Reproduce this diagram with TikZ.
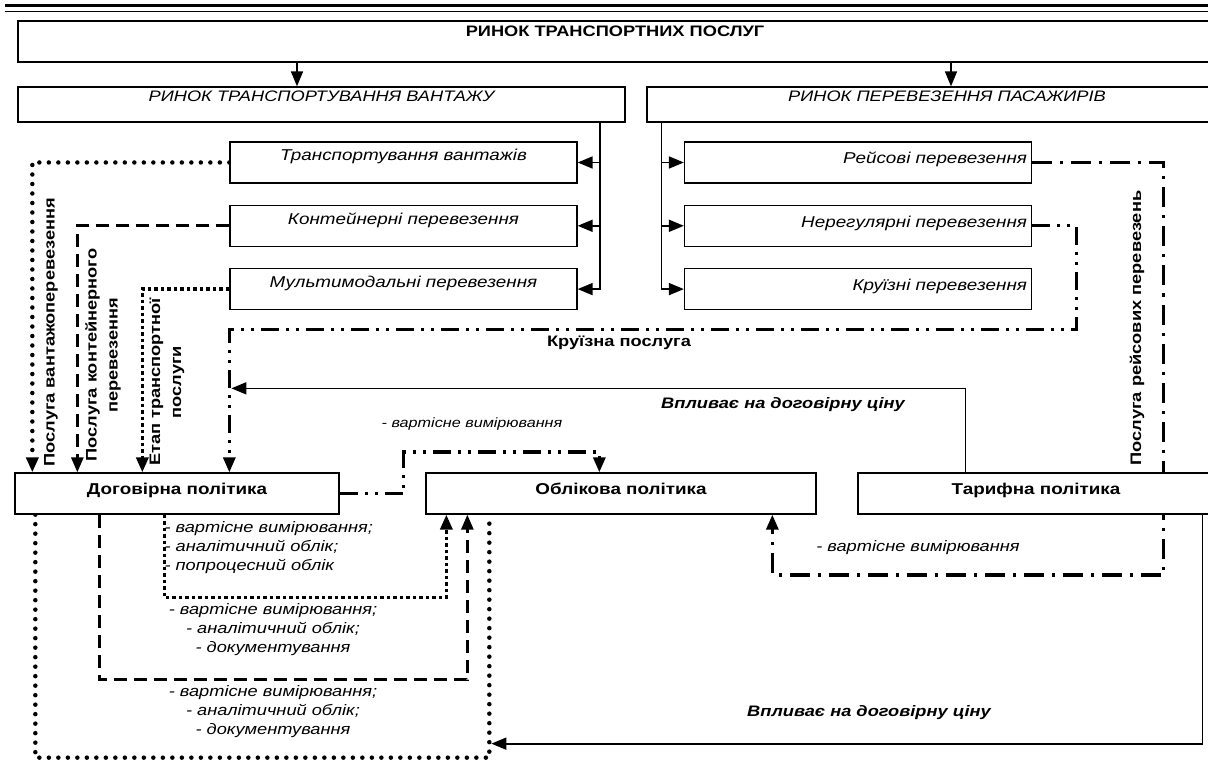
\documentclass[tikz,border=0pt]{standalone}
\usepackage{fontspec}
\setmainfont{Liberation Sans}[FakeStretch=1.2]
\usetikzlibrary{arrows.meta,positioning,backgrounds}

\begin{document}
\begin{tikzpicture}[x=1pt,y=-1pt,>={Triangle[length=15pt,width=12pt]},
  box/.style={draw,line width=1.3pt,fill=white,inner sep=2pt,text height=11pt},
  titel/.style={box,font=\fontsize{15.2}{17}\selectfont\bfseries,text depth=20pt,minimum width=1194pt,minimum height=41pt},
  markt/.style={box,font=\fontsize{15.2}{17}\selectfont\itshape,text depth=17pt,minimum width=600pt,minimum height=35pt},
  leistung/.style={box,font=\fontsize{15.7}{17}\selectfont\itshape,text depth=14pt,minimum width=347pt,minimum height=41pt},
  leistung rechts/.style={leistung,text depth=8pt,text width=338pt,align=right},
  politik/.style={box,font=\fontsize{15.7}{17}\selectfont\bfseries,text depth=9pt,minimum height=41pt},
  beschr/.style={font=\fontsize{15.2}{21}\selectfont\bfseries},
  fettkursiv/.style={font=\fontsize{15.2}{17}\selectfont\bfseries\itshape},
  liste/.style={font=\fontsize{15.2}{19}\selectfont\itshape},
  klein/.style={font=\fontsize{13.5}{15}\selectfont\itshape},
  linie/.style={line width=1.7pt},
  punkte/.style={line width=4.5pt,line cap=round,dash pattern=on 0pt off 9.5pt},
  quadrate/.style={line width=3.5pt,dash pattern=on 3.5pt off 3pt},
  strich/.style={line width=2.8pt,dash pattern=on 13pt off 7pt},
  strichpunkt/.style={line width=3.2pt,dash pattern=on 20pt off 8pt on 3pt off 8pt},
  strichpunktpunkt/.style={line width=3.2pt,dash pattern=on 18pt off 7pt on 3pt off 7pt on 3pt off 7pt}]

\useasboundingbox (0,0) rectangle (1208,762);
\draw[line width=2.5pt] (5,5.5) -- (1210,5.5);
\draw[line width=1.8pt] (5,11.5) -- (1210,11.5);

% Kästen
\node[titel] (rynok) at (615,41.5) {РИНОК ТРАНСПОРТНИХ ПОСЛУГ};
\node[markt,minimum width=607pt] (vant) at (321.5,104.5) {РИНОК ТРАНСПОРТУВАННЯ ВАНТАЖУ};
\node[markt] (pas) at (947,104.5) {РИНОК ПЕРЕВЕЗЕННЯ ПАСАЖИРІВ};
\node[leistung] (tv) at (403.5,162.5) {Транспортування вантажів};
\node[leistung,below=21pt of tv] (kp) {Контейнерні перевезення};
\node[leistung,below=21pt of kp] (mm) {Мультимодальні перевезення};
\node[leistung rechts] (rp) at (858,162.5) {Рейсові перевезення};
\node[leistung rechts,below=21pt of rp] (np) {Нерегулярні перевезення};
\node[leistung rechts,below=21pt of np] (kr) {Круїзні перевезення};
\node[politik,minimum width=324pt] (dp) at (177,493.5) {Договірна політика};
\node[politik,minimum width=390pt] (op) at (621,493.5) {Облікова політика};
\node[politik,minimum width=356pt] (tp) at (1036,493.5) {Тарифна політика};

% Beschriftungen
\node[beschr,rotate=90,anchor=west] (lv) at (51,470) {Послуга вантажоперевезення};
\node[beschr,rotate=90,align=center] (lk) at (103,355) {Послуга контейнерного\\перевезення};
\node[beschr,rotate=90,align=center] (le) at (167,382) {Етап транспортної\\послуги};
\node[beschr,rotate=90] (lr) at (1137,328) {Послуга рейсових перевезень};
\node[beschr] (kru) at (619,343) {Круїзна послуга};
\node[fettkursiv] (vl1) at (783,405) {Впливає на договірну ціну};
\node[fettkursiv] (vl2) at (869,713) {Впливає на договірну ціну};
\node[klein] (vm1) at (472,424) {- вартісне вимірювання};
\node[liste] (vm2) at (918,548) {- вартісне вимірювання};
\node[liste,align=left,anchor=west] (li1) at (161,548) {- вартісне вимірювання;\\- аналітичний облік;\\- попроцесний облік};
\node[liste,align=center] (li2) at (273,630) {- вартісне вимірювання;\\- аналітичний облік;\\- документування};
\node[liste,align=center] (li3) at (273,712) {- вартісне вимірювання;\\- аналітичний облік;\\- документування};

% Verbindungen (unter den Kästen)
\begin{scope}[on background layer]
\coordinate (v1) at ([xshift=-24.5pt]vant.north);
\coordinate (p1) at ([xshift=4pt]pas.north);
\draw[linie,->] (rynok.south -| v1) -- (v1);
\draw[linie,->] (rynok.south -| p1) -- (p1);
\coordinate (vr) at ([xshift=-26pt]vant.south east);
\draw[linie,->] (vr) |- (mm.east);
\draw[linie,->] (vr |- tv.east) -- (tv.east);
\draw[linie,->] (vr |- kp.east) -- (kp.east);
\coordinate (pr) at ([xshift=15pt]pas.south west);
\draw[linie,->] (pr) |- (kr.west);
\draw[linie,->] (pr |- rp.west) -- (rp.west);
\draw[linie,->] (pr |- np.west) -- (np.west);

\draw[punkte,->] (tv.west) -| ([xshift=18pt]dp.north west);
\draw[strich,->] (kp.west) -| ([xshift=63pt]dp.north west);
\draw[quadrate,->] (mm.west) -| ([xshift=128pt]dp.north west);
\draw[strichpunktpunkt,->] (np.east) -- ++(44,0) -- ++(0,103.5) -| ([xshift=215pt]dp.north west);
\draw[strichpunkt,->] (rp.east) -- ++(131,0) -- ++(0,412.5) -| ([xshift=347pt]op.south west);
\draw[linie,->] ([xshift=108pt]tp.north west) |- ([xshift=217pt,yshift=84pt]dp.north west);
\draw[strichpunktpunkt,->] (dp.east) -- ++(64,0) -- ++(0,-41.5) -| ([xshift=174pt]op.north west);

\draw[punkte] ([xshift=21pt]dp.south west) -- ++(0,243) -| ([xshift=64pt]op.south west);
\draw[strich,->] ([xshift=85pt]dp.south west) -- ++(0,165) -| ([xshift=42pt]op.south west);
\draw[quadrate,->] ([xshift=150pt]dp.south west) -- ++(0,83) -| ([xshift=21pt]op.south west);
\draw[linie,->] ([xshift=345pt]tp.south west) |- ([xshift=66pt,yshift=-229pt]op.south west);
\end{scope}
\end{tikzpicture}
\end{document}
